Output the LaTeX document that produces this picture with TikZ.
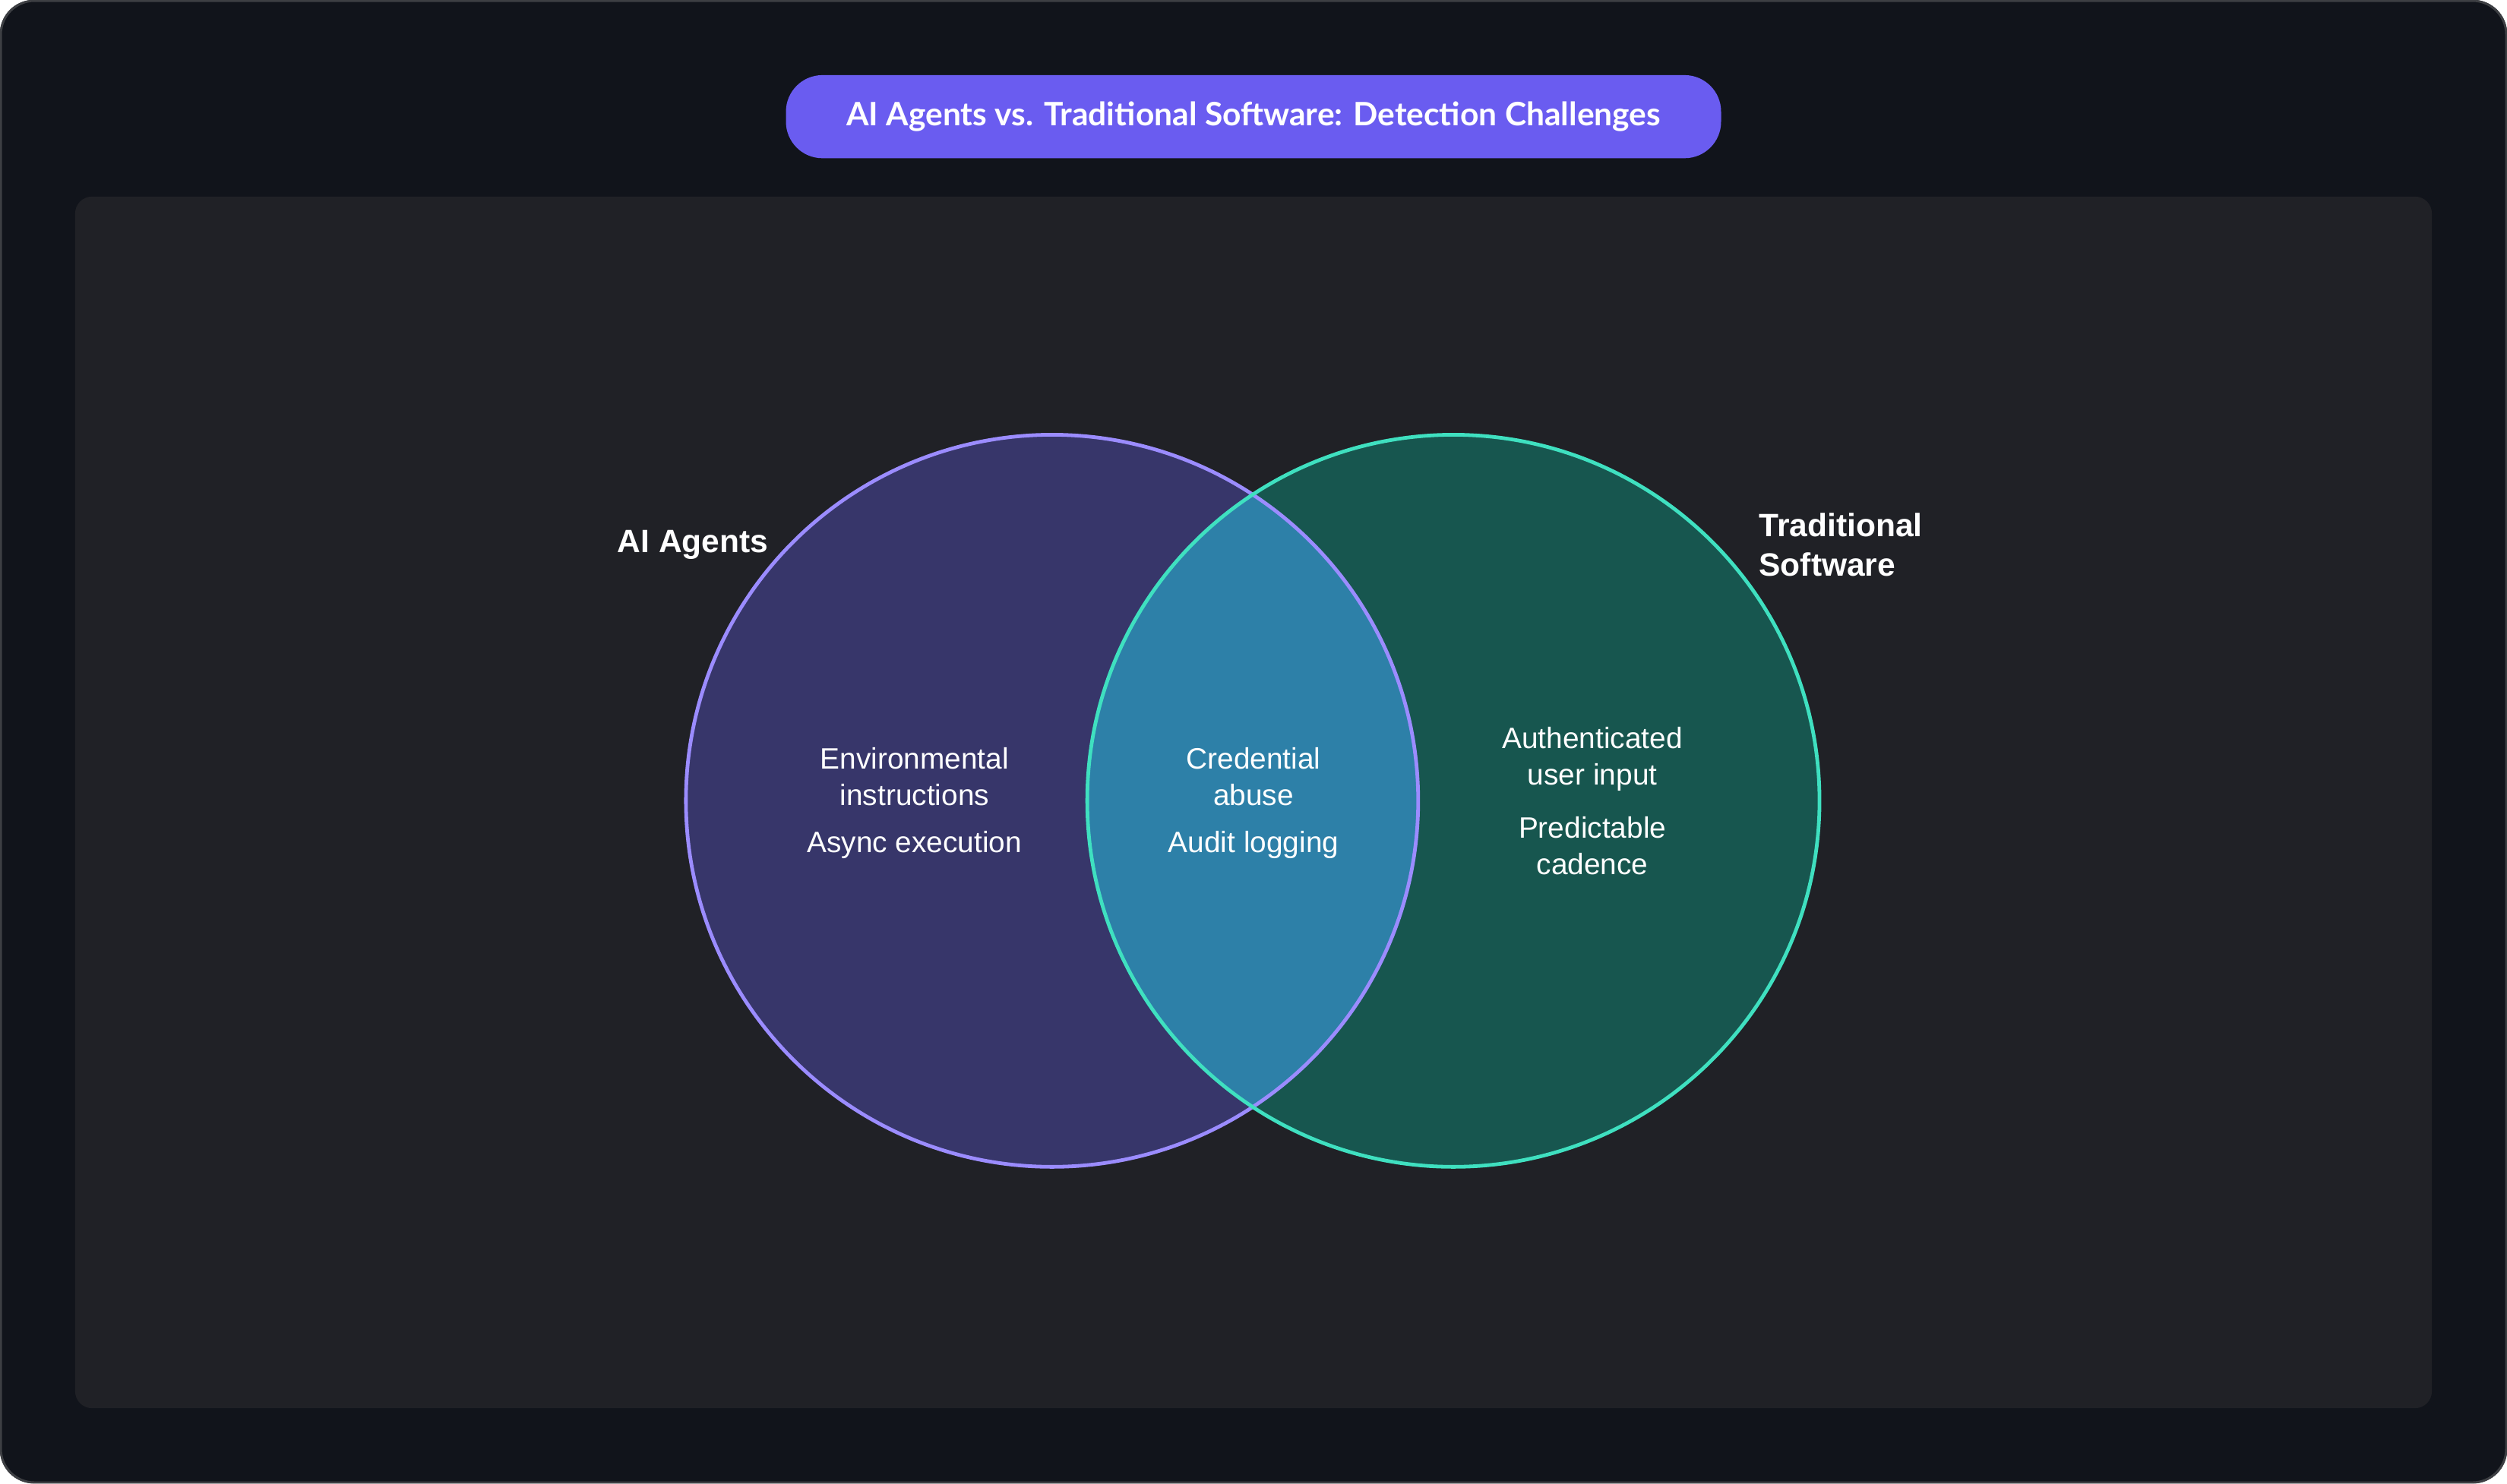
\documentclass[tikz,border=0pt]{standalone}
\usepackage{fontspec}
\setmainfont{Liberation Sans}
\newfontfamily\titlefont{Lato}
\usetikzlibrary{positioning}
\definecolor{page bg}{HTML}{11141B}
\definecolor{panel bg}{HTML}{202126}
\definecolor{agent fill}{HTML}{37366A}
\definecolor{agent line}{HTML}{9B8CFF}
\definecolor{soft fill}{HTML}{17564F}
\definecolor{soft line}{HTML}{3FE0C0}
\definecolor{both fill}{HTML}{2D80A8}
\definecolor{pill}{HTML}{6A5CF0}
\tikzstyle{label}=[text=white,font=\fontsize{10.5}{13}\selectfont,align=center]
\tikzstyle{set name}=[text=white,font=\fontsize{11.5}{14}\selectfont\bfseries,align=left]
\begin{document}
\begin{tikzpicture}[
  x=0.02cm,y=-0.02cm,
  set/.style={line width=1.3pt},
]
  \useasboundingbox (0,0) rectangle (1568,928);
  \fill[page bg,rounded corners=12pt] (0,0) rectangle (1568,928);
  \draw[gray!40!page bg,line width=0.8pt,rounded corners=12pt] (0.5,0.5) rectangle (1567.5,927.5);
  \fill[panel bg,rounded corners=6pt] (47,123) rectangle (1521,881);
  % title
  \node[fill=pill,rounded corners=13pt,minimum width=11.7cm,minimum height=1.04cm,
        text=white,font=\titlefont\bfseries\fontsize{11.5}{14}\selectfont] (title) at (784,73)
        {AI Agents vs. Traditional Software: Detection Challenges};
  % the two sets
  \coordinate (a) at (658,501);
  \coordinate (s) at (909,501);
  \fill[agent fill] (a) circle[radius=229];
  \fill[soft fill] (s) circle[radius=229];
  \begin{scope}
    \clip (a) circle[radius=229];
    \fill[both fill] (s) circle[radius=229];
  \end{scope}
  \draw[set,agent line] (a) circle[radius=229];
  \draw[set,soft line] (s) circle[radius=229];
  % names
  \node[set name,anchor=west] (agents) at (380,341) {AI Agents};
  \node[set name,anchor=west] (software) at (1094,341) {Traditional\\Software};
  % contents
  \node[label] (env) at (572,486) {Environmental\\instructions};
  \node[label,below=2pt of env] (async) {Async execution};
  \node[label] (cred) at (784,486) {Credential\\abuse};
  \node[label,below=2pt of cred] (audit) {Audit logging};
  \node[label] (auth) at (996,475) {Authenticated\\user input};
  \node[label,below=2pt of auth] (cadence) {Predictable\\cadence};
\end{tikzpicture}
\end{document}
